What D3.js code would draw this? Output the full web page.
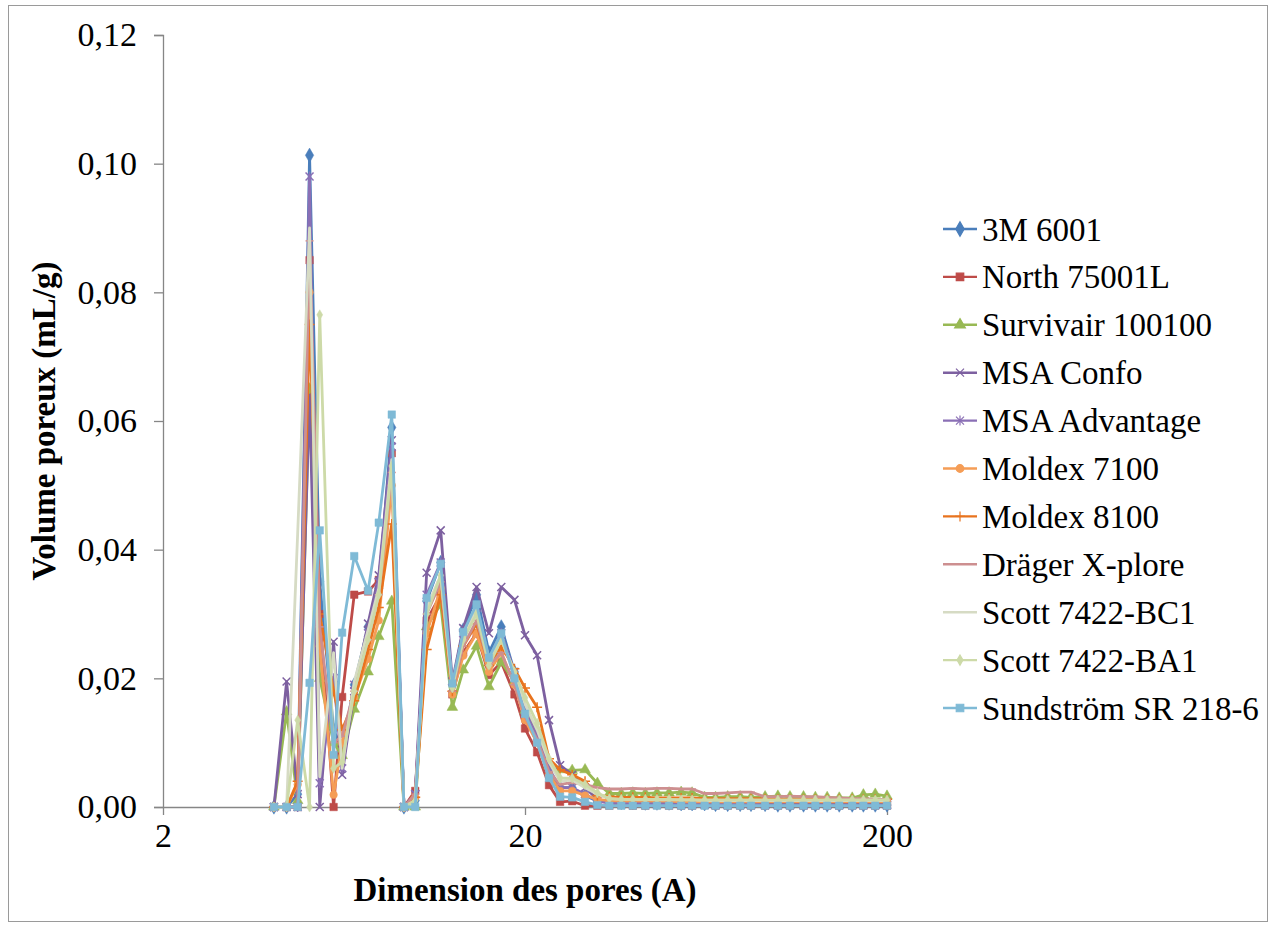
<!DOCTYPE html>
<html>
<head>
<meta charset="utf-8">
<script src="https://cdnjs.cloudflare.com/ajax/libs/d3/7.8.5/d3.min.js"></script>
<style>
  body { margin: 0; background: #fff; }
  text { font-family: "Liberation Serif", "Times New Roman", serif; fill: #000; }
  .axis path, .axis line { stroke: #868686; stroke-width: 1.3; }
  .axis text { font-size: 34px; }
  .axis-title { font-size: 33px; font-weight: bold; }
  .legend text { font-size: 33px; }
</style>
</head>
<body>
<div id="chart"></div>
<script>
// pore dimensions (A) - x categories
var poreSize = [4.05, 4.39, 4.71, 5.08, 5.42, 5.92, 6.25, 6.75, 7.37, 7.89, 8.57, 9.26, 9.95,
  10.7, 11.7, 12.6, 13.5, 14.7, 15.9, 17.2, 18.7, 20.0, 21.6, 23.3, 25.0, 27.0, 29.3, 31.7,
  34.2, 36.9, 39.7, 43.0, 46.3, 50.0, 54.0, 57.9, 62.7, 67.2, 72.6, 78.6, 84.2, 92.1, 99.9,
  107.9, 117.6, 126.8, 136.7, 147.6, 160.3, 172.1, 185.6, 200];

var seriesNames = ["3M 6001", "North 75001L", "Survivair 100100", "MSA Confo", "MSA Advantage",
  "Moldex 7100", "Moldex 8100", "Dräger X-plore", "Scott 7422-BC1", "Scott 7422-BA1", "Sundström SR 218-6"];

var v3m = [0, 0, 0.002, 0.1013, 0.035, 0.012, 0.009, 0.019, 0.028, 0.034, 0.059, 0, 0.001,
  0.032, 0.038, 0.019, 0.0275, 0.033, 0.024, 0.028, 0.021, 0.015, 0.011, 0.0055, 0.003, 0.003, 0.0018, 0.0009,
  0.0008, 0.0007, 0.0007, 0.0006, 0.0006, 0.0006, 0.0005, 0.0005, 0.0005, 0.0004, 0.0004, 0.0004, 0.0004, 0.0004, 0.0003,
  0.0003, 0.0003, 0.0003, 0.0003, 0.0003, 0.0003, 0.0003, 0.0003, 0.0003];
var vNorth = [0, 0, 0, 0.085, 0.030, 0, 0.0171, 0.033, 0.0335, 0.0353, 0.055, 0, 0.0025,
  0.029, 0.033, 0.0175, 0.024, 0.027, 0.0205, 0.0225, 0.0175, 0.0122, 0.0085, 0.0034, 0.0008, 0.0009, 0.0002, 0.0002,
  0.0002, 0.0003, 0.0002, 0.0002, 0.0003, 0.0002, 0.0002, 0.0002, 0.0003, 0.0002, 0.0002, 0.0002, 0.0002, 0.0002, 0.0002,
  0.0002, 0.0002, 0.0002, 0.0002, 0.0002, 0.0002, 0.0002, 0.0002, 0.0002];
var vSurvivair = [0, 0.0148, 0.001, 0.065, 0.020, 0.010, 0.008, 0.0152, 0.021, 0.0265, 0.032, 0, 0,
  0.028, 0.0315, 0.0155, 0.0213, 0.025, 0.0187, 0.0225, 0.0195, 0.015, 0.012, 0.0065, 0.0058, 0.0057, 0.0058, 0.0037,
  0.0021, 0.0021, 0.0022, 0.0021, 0.0022, 0.0022, 0.0023, 0.0022, 0.0015, 0.0015, 0.0016, 0.0016, 0.0015, 0.0016, 0.0017,
  0.0016, 0.0016, 0.0015, 0.0015, 0.0014, 0.0014, 0.0019, 0.0020, 0.0017];
var vConfo = [0, 0.0195, 0.002, 0.064, 0, 0.0257, 0.005, 0.018, 0.0285, 0.036, 0.057, 0, 0.002,
  0.0364, 0.043, 0.0195, 0.0278, 0.0342, 0.027, 0.0342, 0.0322, 0.0267, 0.0236, 0.0135, 0.0065, 0.005, 0.003, 0.0012,
  0.0008, 0.0006, 0.0006, 0.0005, 0.0005, 0.0005, 0.0005, 0.0005, 0.0005, 0.0004, 0.0004, 0.0004, 0.0004, 0.0004, 0.0004,
  0.0004, 0.0004, 0.0004, 0.0004, 0.0004, 0.0004, 0.0004, 0.0004, 0.0004];
var vAdvantage = [0, 0, 0, 0.098, 0.0037, 0.020, 0.006, 0.019, 0.027, 0.035, 0.056, 0, 0.002,
  0.033, 0.038, 0.0185, 0.027, 0.031, 0.023, 0.027, 0.021, 0.015, 0.011, 0.006, 0.003, 0.003, 0.002, 0.0009,
  0.0006, 0.0006, 0.0005, 0.0005, 0.0005, 0.0005, 0.0004, 0.0004, 0.0004, 0.0004, 0.0004, 0.0004, 0.0004, 0.0003, 0.0003,
  0.0003, 0.0003, 0.0003, 0.0003, 0.0003, 0.0003, 0.0003, 0.0003, 0.0003];
var vMoldex7100 = [0, 0, 0.0035, 0.080, 0.025, 0.0019, 0.010, 0.017, 0.023, 0.029, 0.050, 0, 0.0015,
  0.027, 0.034, 0.0175, 0.0235, 0.027, 0.021, 0.024, 0.019, 0.0135, 0.010, 0.005, 0.0025, 0.0025, 0.0018, 0.0012,
  0.0010, 0.0009, 0.0009, 0.0009, 0.0009, 0.0009, 0.0008, 0.0008, 0.0008, 0.0008, 0.0008, 0.0008, 0.0008, 0.0008, 0.0008,
  0.0008, 0.0008, 0.0008, 0.0008, 0.0008, 0.0008, 0.0008, 0.0008, 0.0008];
var vMoldex8100 = [0, 0, 0.004, 0.075, 0.030, 0.018, 0.012, 0.0165, 0.0245, 0.031, 0.044, 0, 0.0015,
  0.0245, 0.033, 0.018, 0.025, 0.0285, 0.022, 0.025, 0.0215, 0.0185, 0.0155, 0.0075, 0.0058, 0.005, 0.004, 0.0018,
  0.0016, 0.0015, 0.0015, 0.0015, 0.0014, 0.0014, 0.0014, 0.0014, 0.0013, 0.0013, 0.0013, 0.0013, 0.0013, 0.0013, 0.0012,
  0.0012, 0.0012, 0.0012, 0.0012, 0.0012, 0.0012, 0.0012, 0.0012, 0.0012];
var vDrager = [0, 0, 0, 0.088, 0.028, 0.010, 0.011, 0.018, 0.026, 0.033, 0.052, 0, 0.002,
  0.030, 0.035, 0.018, 0.025, 0.029, 0.022, 0.024, 0.019, 0.014, 0.0105, 0.0055, 0.0035, 0.0038, 0.0035, 0.0030,
  0.0028, 0.0028, 0.0029, 0.0028, 0.0029, 0.0029, 0.0028, 0.0028, 0.0021, 0.0021, 0.0022, 0.0023, 0.0023, 0.0016, 0.0016,
  0.0017, 0.0016, 0.0016, 0.0015, 0.0014, 0.0013, 0.0013, 0.0012, 0.0012];
var vScottBC1 = [0, 0, 0.0425, 0.090, 0.0047, 0.024, 0.006, 0.0195, 0.0275, 0.034, 0.054, 0, 0.001,
  0.031, 0.036, 0.019, 0.026, 0.031, 0.023, 0.026, 0.021, 0.016, 0.012, 0.007, 0.004, 0.0042, 0.003, 0.002,
  0.0013, 0.0012, 0.0012, 0.0012, 0.0011, 0.0011, 0.0011, 0.0011, 0.0010, 0.0010, 0.0010, 0.0010, 0.0010, 0.0010, 0.0010,
  0.0010, 0.0010, 0.0010, 0.0010, 0.0010, 0.0010, 0.0010, 0.0010, 0.0010];
var vScottBA1 = [0, 0, 0.0135, 0, 0.0765, 0.006, 0.007, 0.018, 0.026, 0.033, 0.053, 0, 0.001,
  0.030, 0.036, 0.0185, 0.026, 0.030, 0.022, 0.026, 0.021, 0.017, 0.013, 0.0075, 0.0045, 0.0045, 0.0035, 0.0022,
  0.0013, 0.0012, 0.0012, 0.0012, 0.0012, 0.0012, 0.0011, 0.0011, 0.0011, 0.0011, 0.0011, 0.0011, 0.0011, 0.0011, 0.0011,
  0.0011, 0.0011, 0.0011, 0.0011, 0.0011, 0.0011, 0.0011, 0.0011, 0.0011];
var vSundstrom = [0, 0, 0, 0.0193, 0.043, 0.0081, 0.0271, 0.039, 0.0336, 0.0442, 0.061, 0, 0,
  0.0325, 0.0378, 0.0192, 0.0272, 0.0315, 0.0232, 0.027, 0.020, 0.0145, 0.010, 0.0045, 0.0016, 0.0015, 0.0008, 0.0003,
  0.0002, 0.0002, 0.0002, 0.0002, 0.0002, 0.0002, 0.0002, 0.0002, 0.0002, 0.0002, 0.0002, 0.0002, 0.0002, 0.0002, 0.0002,
  0.0002, 0.0002, 0.0002, 0.0002, 0.0002, 0.0002, 0.0002, 0.0002, 0.0002];

var yTicks = [0, 0.02, 0.04, 0.06, 0.08, 0.10, 0.12];
var xTicks = [2, 20, 200];

var seriesValues = [v3m, vNorth, vSurvivair, vConfo, vAdvantage, vMoldex7100, vMoldex8100,
  vDrager, vScottBC1, vScottBA1, vSundstrom];
var colors = ["#4A7EBB", "#BE4B48", "#98B954", "#7D60A0", "#8A6FB5", "#F59D56", "#E8731E",
  "#CD8F90", "#D6DBC4", "#CDDAA8", "#7FBAD6"];
var markers = ["diamond", "square", "triangle", "x", "star", "circle", "plus", "dash", "none", "diamondSmall", "square"];

var fullWidth = 1271, fullHeight = 926;
var margin = {top: 35, right: 384, bottom: 119, left: 163};
var width = fullWidth - margin.left - margin.right,
    height = fullHeight - margin.top - margin.bottom;

var svg = d3.select("#chart")
  .append("svg")
  .attr("width", fullWidth)
  .attr("height", fullHeight);

// chart area border
svg.append("rect")
  .attr("x", 8.5).attr("y", 5.5)
  .attr("width", 1259).attr("height", 916)
  .attr("fill", "none")
  .attr("stroke", "#9a9a9a")
  .attr("stroke-width", 1);

var g = svg.append("g")
  .attr("transform", "translate(" + margin.left + "," + margin.top + ")");

var x = d3.scaleLog().domain([2, 200]).range([0, width]);
var y = d3.scaleLinear().domain([0, 0.12]).range([height, 0]);

var fr = d3.formatLocale({decimal: ",", thousands: " ", grouping: [3], currency: ["", "€"]});
var fmtY = fr.format(".2f");

g.append("g")
  .attr("class", "axis")
  .call(d3.axisLeft(y).tickValues(yTicks).tickFormat(fmtY).tickSizeInner(9).tickSizeOuter(9).tickPadding(17));

g.append("g")
  .attr("class", "axis")
  .attr("transform", "translate(0," + height + ")")
  .call(d3.axisBottom(x).tickValues(xTicks).tickFormat(d3.format("d")).tickSizeInner(8).tickSizeOuter(0).tickPadding(8));

g.selectAll(".axis text").attr("fill", "#000");

// axis titles
svg.append("text")
  .attr("class", "axis-title")
  .attr("text-anchor", "middle")
  .attr("transform", "translate(55," + (margin.top + height / 2) + ") rotate(-90)")
  .text("Volume poreux (mL/g)");

svg.append("text")
  .attr("class", "axis-title")
  .attr("text-anchor", "middle")
  .attr("x", 525)
  .attr("y", 901)
  .text("Dimension des pores (A)");

function markerPath(type) {
  if (type == "diamond") return d3.symbol(d3.symbolDiamond, 60)();
  if (type == "diamondSmall") return d3.symbol(d3.symbolDiamond, 30)();
  if (type == "square") return d3.symbol(d3.symbolSquare, 56)();
  if (type == "triangle") return d3.symbol(d3.symbolTriangle, 50)();
  if (type == "circle") return d3.symbol(d3.symbolCircle, 45)();
  if (type == "x") return "M-4,-4L4,4M-4,4L4,-4";
  if (type == "star") return "M-4,-4L4,4M-4,4L4,-4M0,-5V5";
  if (type == "plus") return "M-5,0H5M0,-5V5";
  if (type == "dash") return "M-4,0H4";
  return null;
}

var line = d3.line()
  .x(function(d) { return x(d.x); })
  .y(function(d) { return y(d.v); });

seriesValues.forEach(function(vals, i) {
  var data = poreSize.map(function(p, k) { return {x: p, v: vals[k]}; });
  var sg = g.append("g").attr("class", "series");
  sg.append("path")
    .datum(data)
    .attr("fill", "none")
    .attr("stroke", colors[i])
    .attr("stroke-width", 2.8)
    .attr("stroke-linejoin", "round")
    .attr("d", line);
  var mp = markerPath(markers[i]);
  if (mp) {
    var filled = ["x", "star", "plus", "dash"].indexOf(markers[i]) < 0;
    sg.selectAll("path.marker")
      .data(data)
      .enter()
      .append("path")
      .attr("class", "marker")
      .attr("transform", function(d) { return "translate(" + x(d.x) + "," + y(d.v) + ")"; })
      .attr("d", mp)
      .attr("fill", filled ? colors[i] : "none")
      .attr("stroke", colors[i])
      .attr("stroke-width", filled ? 0.5 : 1.5);
  }
});

// legend
var legend = svg.append("g")
  .attr("class", "legend")
  .attr("transform", "translate(943,229)");

var item = legend.selectAll("g")
  .data(seriesNames)
  .enter()
  .append("g")
  .attr("transform", function(d, i) { return "translate(0," + (i * 47.9) + ")"; });

item.append("line")
  .attr("x1", 0).attr("x2", 34)
  .attr("stroke", function(d, i) { return colors[i]; })
  .attr("stroke-width", 2.4);

item.append("path")
  .attr("transform", "translate(17,0)")
  .attr("d", function(d, i) { return markerPath(markers[i]); })
  .attr("fill", function(d, i) { return ["x", "star", "plus", "dash"].indexOf(markers[i]) < 0 ? colors[i] : "none"; })
  .attr("stroke", function(d, i) { return colors[i]; })
  .attr("stroke-width", 1.2);

item.append("text")
  .attr("x", 39)
  .attr("dy", "0.35em")
  .text(function(d) { return d; });
</script>
</body>
</html>
